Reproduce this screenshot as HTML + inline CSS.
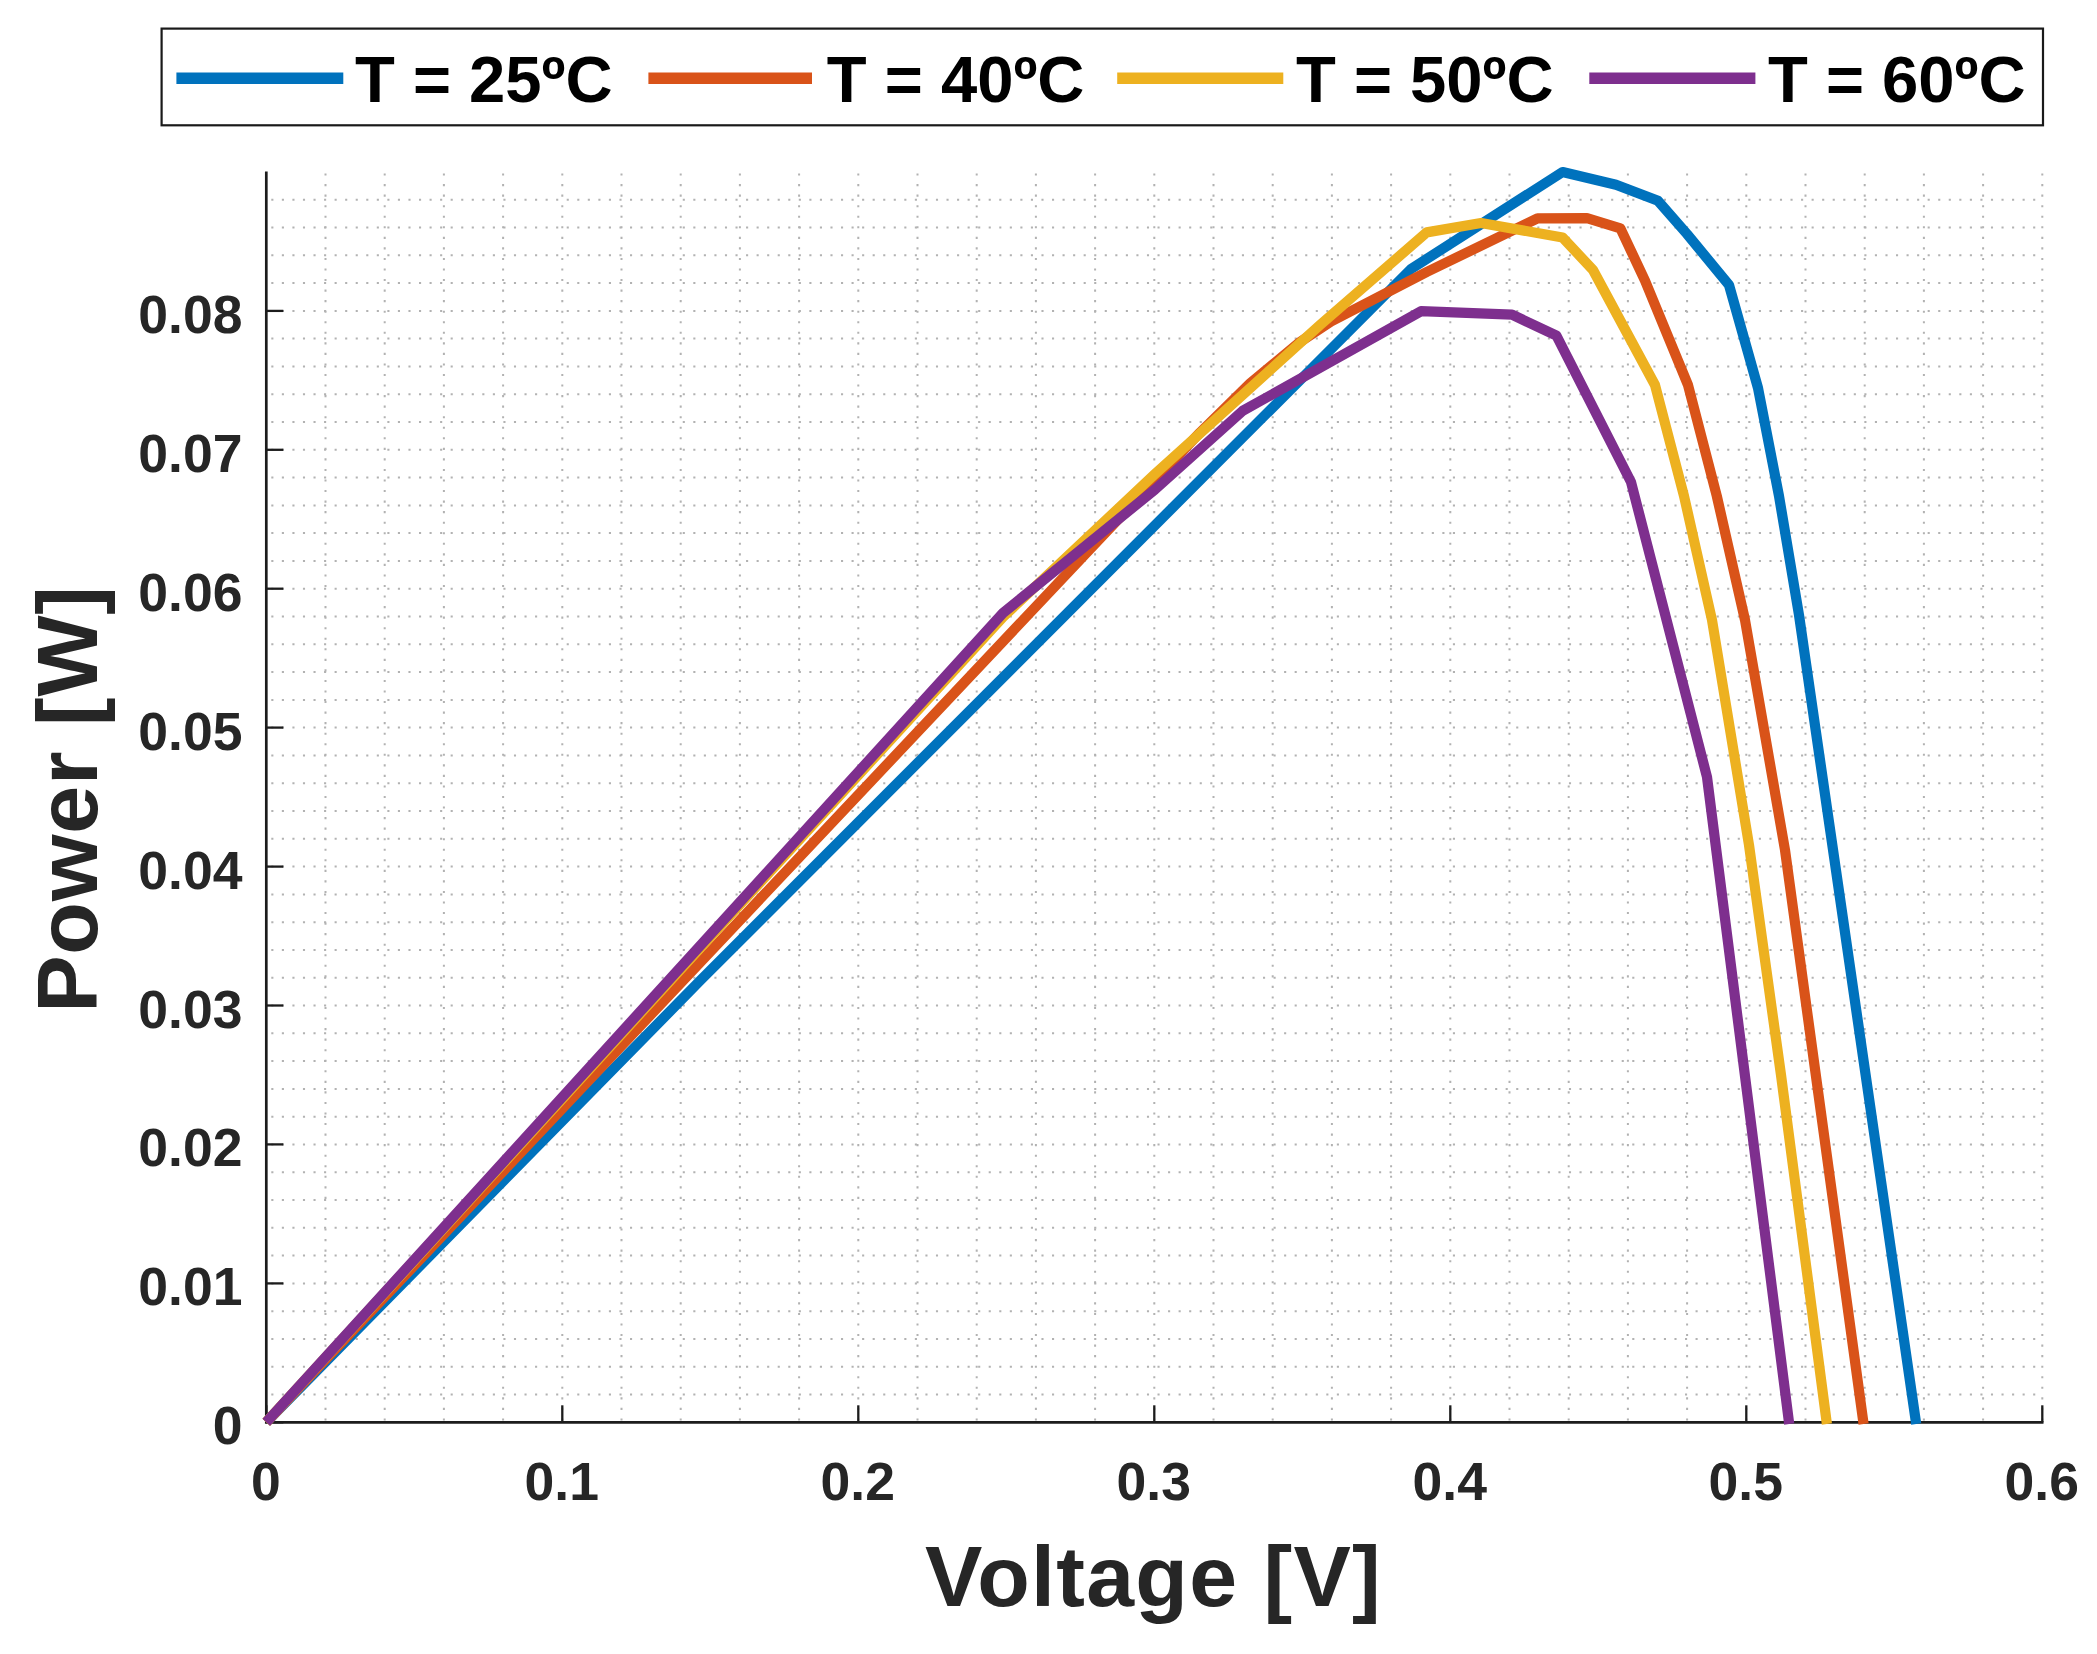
<!DOCTYPE html>
<html lang="en">
<head>
<meta charset="utf-8">
<title>Power vs Voltage</title>
<style>
html,body{margin:0;padding:0;background:#fff;}
body{width:2097px;height:1654px;overflow:hidden;font-family:"Liberation Sans",sans-serif;}
svg{display:block;}
text{font-family:"Liberation Sans",sans-serif;font-weight:bold;}
.tick{font-size:53.5px;fill:#262626;}
.axl{font-size:86px;fill:#262626;}
.leg{font-size:65.2px;fill:#000;}
</style>
</head>
<body>
<svg width="2097" height="1654" viewBox="0 0 2097 1654">
<rect width="2097" height="1654" fill="#fff"/>

<g stroke="#b2b2b2" stroke-width="2" stroke-dasharray="2.1 8.45" fill="none">
<line x1="325.5" y1="173.5" x2="325.5" y2="1422.3"/>
<line x1="384.7" y1="173.5" x2="384.7" y2="1422.3"/>
<line x1="443.9" y1="173.5" x2="443.9" y2="1422.3"/>
<line x1="503.1" y1="173.5" x2="503.1" y2="1422.3"/>
<line x1="562.3" y1="173.5" x2="562.3" y2="1422.3"/>
<line x1="621.5" y1="173.5" x2="621.5" y2="1422.3"/>
<line x1="680.7" y1="173.5" x2="680.7" y2="1422.3"/>
<line x1="739.9" y1="173.5" x2="739.9" y2="1422.3"/>
<line x1="799.1" y1="173.5" x2="799.1" y2="1422.3"/>
<line x1="858.3" y1="173.5" x2="858.3" y2="1422.3"/>
<line x1="917.5" y1="173.5" x2="917.5" y2="1422.3"/>
<line x1="976.7" y1="173.5" x2="976.7" y2="1422.3"/>
<line x1="1035.9" y1="173.5" x2="1035.9" y2="1422.3"/>
<line x1="1095.1" y1="173.5" x2="1095.1" y2="1422.3"/>
<line x1="1154.3" y1="173.5" x2="1154.3" y2="1422.3"/>
<line x1="1213.5" y1="173.5" x2="1213.5" y2="1422.3"/>
<line x1="1272.7" y1="173.5" x2="1272.7" y2="1422.3"/>
<line x1="1331.9" y1="173.5" x2="1331.9" y2="1422.3"/>
<line x1="1391.1" y1="173.5" x2="1391.1" y2="1422.3"/>
<line x1="1450.3" y1="173.5" x2="1450.3" y2="1422.3"/>
<line x1="1509.5" y1="173.5" x2="1509.5" y2="1422.3"/>
<line x1="1568.7" y1="173.5" x2="1568.7" y2="1422.3"/>
<line x1="1627.9" y1="173.5" x2="1627.9" y2="1422.3"/>
<line x1="1687.1" y1="173.5" x2="1687.1" y2="1422.3"/>
<line x1="1746.3" y1="173.5" x2="1746.3" y2="1422.3"/>
<line x1="1805.5" y1="173.5" x2="1805.5" y2="1422.3"/>
<line x1="1864.7" y1="173.5" x2="1864.7" y2="1422.3"/>
<line x1="1923.9" y1="173.5" x2="1923.9" y2="1422.3"/>
<line x1="1983.1" y1="173.5" x2="1983.1" y2="1422.3"/>
<line x1="2042.3" y1="173.5" x2="2042.3" y2="1422.3"/>
<line x1="271.3" y1="1394.5" x2="2042.3" y2="1394.5"/>
<line x1="271.3" y1="1366.7" x2="2042.3" y2="1366.7"/>
<line x1="271.3" y1="1338.9" x2="2042.3" y2="1338.9"/>
<line x1="271.3" y1="1311.2" x2="2042.3" y2="1311.2"/>
<line x1="271.3" y1="1283.4" x2="2042.3" y2="1283.4"/>
<line x1="271.3" y1="1255.6" x2="2042.3" y2="1255.6"/>
<line x1="271.3" y1="1227.8" x2="2042.3" y2="1227.8"/>
<line x1="271.3" y1="1200" x2="2042.3" y2="1200"/>
<line x1="271.3" y1="1172.2" x2="2042.3" y2="1172.2"/>
<line x1="271.3" y1="1144.4" x2="2042.3" y2="1144.4"/>
<line x1="271.3" y1="1116.7" x2="2042.3" y2="1116.7"/>
<line x1="271.3" y1="1088.9" x2="2042.3" y2="1088.9"/>
<line x1="271.3" y1="1061.1" x2="2042.3" y2="1061.1"/>
<line x1="271.3" y1="1033.3" x2="2042.3" y2="1033.3"/>
<line x1="271.3" y1="1005.5" x2="2042.3" y2="1005.5"/>
<line x1="271.3" y1="977.7" x2="2042.3" y2="977.7"/>
<line x1="271.3" y1="949.9" x2="2042.3" y2="949.9"/>
<line x1="271.3" y1="922.2" x2="2042.3" y2="922.2"/>
<line x1="271.3" y1="894.4" x2="2042.3" y2="894.4"/>
<line x1="271.3" y1="866.6" x2="2042.3" y2="866.6"/>
<line x1="271.3" y1="838.8" x2="2042.3" y2="838.8"/>
<line x1="271.3" y1="811" x2="2042.3" y2="811"/>
<line x1="271.3" y1="783.2" x2="2042.3" y2="783.2"/>
<line x1="271.3" y1="755.4" x2="2042.3" y2="755.4"/>
<line x1="271.3" y1="727.6" x2="2042.3" y2="727.6"/>
<line x1="271.3" y1="699.9" x2="2042.3" y2="699.9"/>
<line x1="271.3" y1="672.1" x2="2042.3" y2="672.1"/>
<line x1="271.3" y1="644.3" x2="2042.3" y2="644.3"/>
<line x1="271.3" y1="616.5" x2="2042.3" y2="616.5"/>
<line x1="271.3" y1="588.7" x2="2042.3" y2="588.7"/>
<line x1="271.3" y1="560.9" x2="2042.3" y2="560.9"/>
<line x1="271.3" y1="533.1" x2="2042.3" y2="533.1"/>
<line x1="271.3" y1="505.4" x2="2042.3" y2="505.4"/>
<line x1="271.3" y1="477.6" x2="2042.3" y2="477.6"/>
<line x1="271.3" y1="449.8" x2="2042.3" y2="449.8"/>
<line x1="271.3" y1="422" x2="2042.3" y2="422"/>
<line x1="271.3" y1="394.2" x2="2042.3" y2="394.2"/>
<line x1="271.3" y1="366.4" x2="2042.3" y2="366.4"/>
<line x1="271.3" y1="338.6" x2="2042.3" y2="338.6"/>
<line x1="271.3" y1="310.9" x2="2042.3" y2="310.9"/>
<line x1="271.3" y1="283.1" x2="2042.3" y2="283.1"/>
<line x1="271.3" y1="255.3" x2="2042.3" y2="255.3"/>
<line x1="271.3" y1="227.5" x2="2042.3" y2="227.5"/>
<line x1="271.3" y1="199.7" x2="2042.3" y2="199.7"/>
</g>
<g stroke="#1c1c1c" stroke-width="2.3" fill="none" stroke-linecap="butt">
<path stroke-width="2.7" d="M266.3 171.5 V1422.3 H2043.5"/>
<line x1="266.3" y1="1422.3" x2="266.3" y2="1405.3"/>
<line x1="562.3" y1="1422.3" x2="562.3" y2="1405.3"/>
<line x1="858.3" y1="1422.3" x2="858.3" y2="1405.3"/>
<line x1="1154.3" y1="1422.3" x2="1154.3" y2="1405.3"/>
<line x1="1450.3" y1="1422.3" x2="1450.3" y2="1405.3"/>
<line x1="1746.3" y1="1422.3" x2="1746.3" y2="1405.3"/>
<line x1="2042.3" y1="1422.3" x2="2042.3" y2="1405.3"/>
<line x1="266.3" y1="1422.3" x2="283.3" y2="1422.3"/>
<line x1="266.3" y1="1283.4" x2="283.3" y2="1283.4"/>
<line x1="266.3" y1="1144.4" x2="283.3" y2="1144.4"/>
<line x1="266.3" y1="1005.5" x2="283.3" y2="1005.5"/>
<line x1="266.3" y1="866.6" x2="283.3" y2="866.6"/>
<line x1="266.3" y1="727.6" x2="283.3" y2="727.6"/>
<line x1="266.3" y1="588.7" x2="283.3" y2="588.7"/>
<line x1="266.3" y1="449.8" x2="283.3" y2="449.8"/>
<line x1="266.3" y1="310.9" x2="283.3" y2="310.9"/>
</g>
<g fill="none" stroke-width="10.2" stroke-linejoin="round" stroke-linecap="butt">
<path stroke="#0072BD" d="M266.3 1422.3 L700 980.8 L1411 269 L1562.6 172 L1616 184.8 L1658 200.8 L1687 234 L1729 285 L1758 388 L1779 496 L1799 615 L1916.2 1424"/>
<path stroke="#D95319" d="M266.3 1422.3 L1200 432.6 L1250 383.5 L1300 342 L1331 321.5 L1426.7 272 L1537.5 218.3 L1587 218.2 L1620.4 228.3 L1645 280.6 L1688 385 L1716.8 496 L1745 620 L1785 850 L1863.6 1424"/>
<path stroke="#EDB120" d="M266.3 1422.3 L1003 617 L1154.7 474.2 L1320 325 L1426.7 232.4 L1481 223 L1562.6 237.5 L1593 270 L1655 385 L1684 496 L1712 620 L1749 845 L1781 1075 L1826.9 1424"/>
<path stroke="#7E2F8E" d="M266.3 1422.3 L1003 613 L1155 489.5 L1242.8 410.8 L1421 311.2 L1512 314.6 L1556.5 335.7 L1631 482 L1707 777 L1789.2 1424"/>
</g>
<g class="tick" text-anchor="middle">
<text x="265.8" y="1499.5">0</text>
<text x="561.8" y="1499.5">0.1</text>
<text x="857.8" y="1499.5">0.2</text>
<text x="1153.8" y="1499.5">0.3</text>
<text x="1449.8" y="1499.5">0.4</text>
<text x="1745.8" y="1499.5">0.5</text>
<text x="2041.8" y="1499.5">0.6</text>
</g>
<g class="tick" text-anchor="end">
<text x="242.5" y="1444.3">0</text>
<text x="242.5" y="1305.4">0.01</text>
<text x="242.5" y="1166.4">0.02</text>
<text x="242.5" y="1027.5">0.03</text>
<text x="242.5" y="888.6">0.04</text>
<text x="242.5" y="749.6">0.05</text>
<text x="242.5" y="610.7">0.06</text>
<text x="242.5" y="471.8">0.07</text>
<text x="242.5" y="332.9">0.08</text>
</g>
<text class="axl" text-anchor="middle" x="1153.5" y="1606" letter-spacing="1.3">Voltage [V]</text>
<text class="axl" text-anchor="middle" transform="translate(96.5 799) rotate(-90)" letter-spacing="0.8">Power [W]</text>
<rect x="161.6" y="28.6" width="1881.4" height="96.7" fill="#fff" stroke="#1a1a1a" stroke-width="2.2"/>
<line x1="176.4" y1="78.2" x2="343.3" y2="78.2" stroke="#0072BD" stroke-width="11.5"/>
<text class="leg" x="355" y="102.4">T = 25ºC</text>
<line x1="648.4" y1="78.2" x2="812" y2="78.2" stroke="#D95319" stroke-width="11.5"/>
<text class="leg" x="826.8" y="102.4">T = 40ºC</text>
<line x1="1117.2" y1="78.2" x2="1283.3" y2="78.2" stroke="#EDB120" stroke-width="11.5"/>
<text class="leg" x="1296" y="102.4">T = 50ºC</text>
<line x1="1589.3" y1="78.2" x2="1755.4" y2="78.2" stroke="#7E2F8E" stroke-width="11.5"/>
<text class="leg" x="1768" y="102.4">T = 60ºC</text>
</svg>
</body>
</html>
